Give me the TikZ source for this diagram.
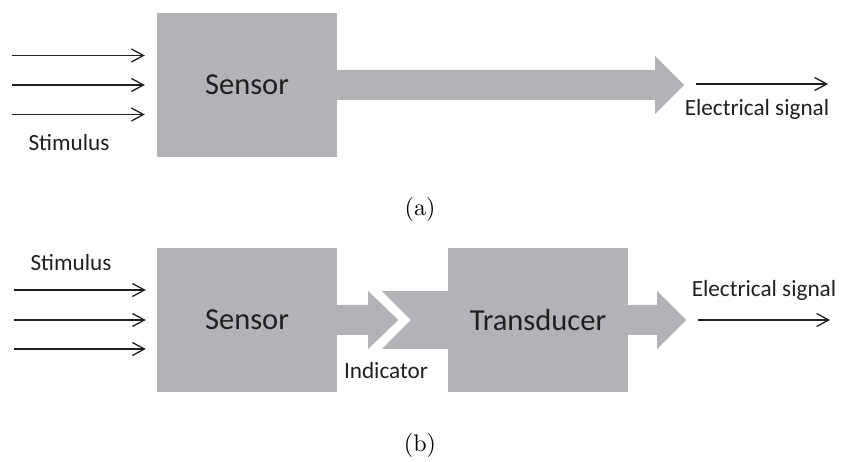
\documentclass[tikz,border=0pt]{standalone}
\usepackage{fontspec}
\newfontfamily\calibfont{Carlito}
\newfontfamily\capfont{lmroman10-regular.otf}
\usetikzlibrary{arrows.meta,positioning}
\definecolor{boxgray}{RGB}{178,179,182}
\definecolor{inkgray}{RGB}{35,31,32}

\begin{document}
\begin{tikzpicture}[x=1pt,y=-1pt,
        block/.style={fill=boxgray, minimum width=180pt, minimum height=144pt, inner sep=0pt,
            font=\calibfont\fontsize{30.5}{32}\selectfont, text=inkgray},
        fat/.style={fill=boxgray},
        sig/.style={draw=inkgray, line width=1.3pt, -{Straight Barb[length=12pt,width=13pt,line width=1.3pt]}},
        lbl/.style={font=\calibfont\fontsize{23.2}{26}\selectfont, text=inkgray, inner sep=0pt},
        subcap/.style={font=\capfont\fontsize{24}{28}\selectfont, inner sep=0pt}]
    \useasboundingbox (0,0) rectangle (841,462);

    % (a)
    \node[block] (sensA) at (247,85) {Sensor};
    \coordinate (tipA) at (684,85);
    \fill[fat] ([yshift=15pt]sensA.east) -| ([xshift=-29pt,yshift=29pt]tipA) -- (tipA)
        -- ([xshift=-29pt,yshift=-29pt]tipA) |- ([yshift=-15pt]sensA.east) -- cycle;
    \foreach \dy in {29.5,0,-29.5}
        \draw[sig] ([xshift=-145pt,yshift=\dy pt]sensA.west) -- ([xshift=-12pt,yshift=\dy pt]sensA.west);
    \node[lbl, anchor=base] (stimA) at (69,151) {Stimulus};
    \coordinate (outA1) at (696,84);
    \coordinate (outA2) at (828,84);
    \draw[sig] (outA1) -- (outA2);
    \node[lbl, anchor=base] (elecA) at (757,116) {Electrical signal};
    \node[subcap, anchor=base] (capA) at (420,216) {(a)};

    % (b)
    \node[block] (sensB) at (247,320) {Sensor};
    \node[block] (transB) at (538,320) {Transducer};
    \coordinate (tipB) at ([xshift=61pt]sensB.east);
    \fill[fat] ([yshift=15pt]sensB.east) -| ([xshift=-30pt,yshift=29pt]tipB) -- (tipB)
        -- ([xshift=-30pt,yshift=-29pt]tipB) |- ([yshift=-15pt]sensB.east) -- cycle;
    \fill[fat] ([yshift=29pt]transB.west) -- ++(-66,0) -- ([xshift=-37pt]transB.west)
        -- ([xshift=-66pt,yshift=-29pt]transB.west) -- ([yshift=-29pt]transB.west) -- cycle;
    \coordinate (tipC) at ([xshift=58pt]transB.east);
    \fill[fat] ([yshift=15pt]transB.east) -| ([xshift=-29pt,yshift=29pt]tipC) -- (tipC)
        -- ([xshift=-29pt,yshift=-29pt]tipC) |- ([yshift=-15pt]transB.east) -- cycle;
    \foreach \dy in {30,0,-29}
        \draw[sig] ([xshift=-143pt,yshift=\dy pt]sensB.west) -- ([xshift=-11pt,yshift=\dy pt]sensB.west);
    \node[lbl, anchor=base] (stimB) at (71,271) {Stimulus};
    \node[lbl, anchor=base] (indB) at (386,378) {Indicator};
    \coordinate (outB1) at (698,320);
    \coordinate (outB2) at (830,320);
    \draw[sig] (outB1) -- (outB2);
    \node[lbl, anchor=base] (elecB) at (764,297) {Electrical signal};
    \node[subcap, anchor=base] (capB) at (420,451) {(b)};
\end{tikzpicture}
\end{document}
